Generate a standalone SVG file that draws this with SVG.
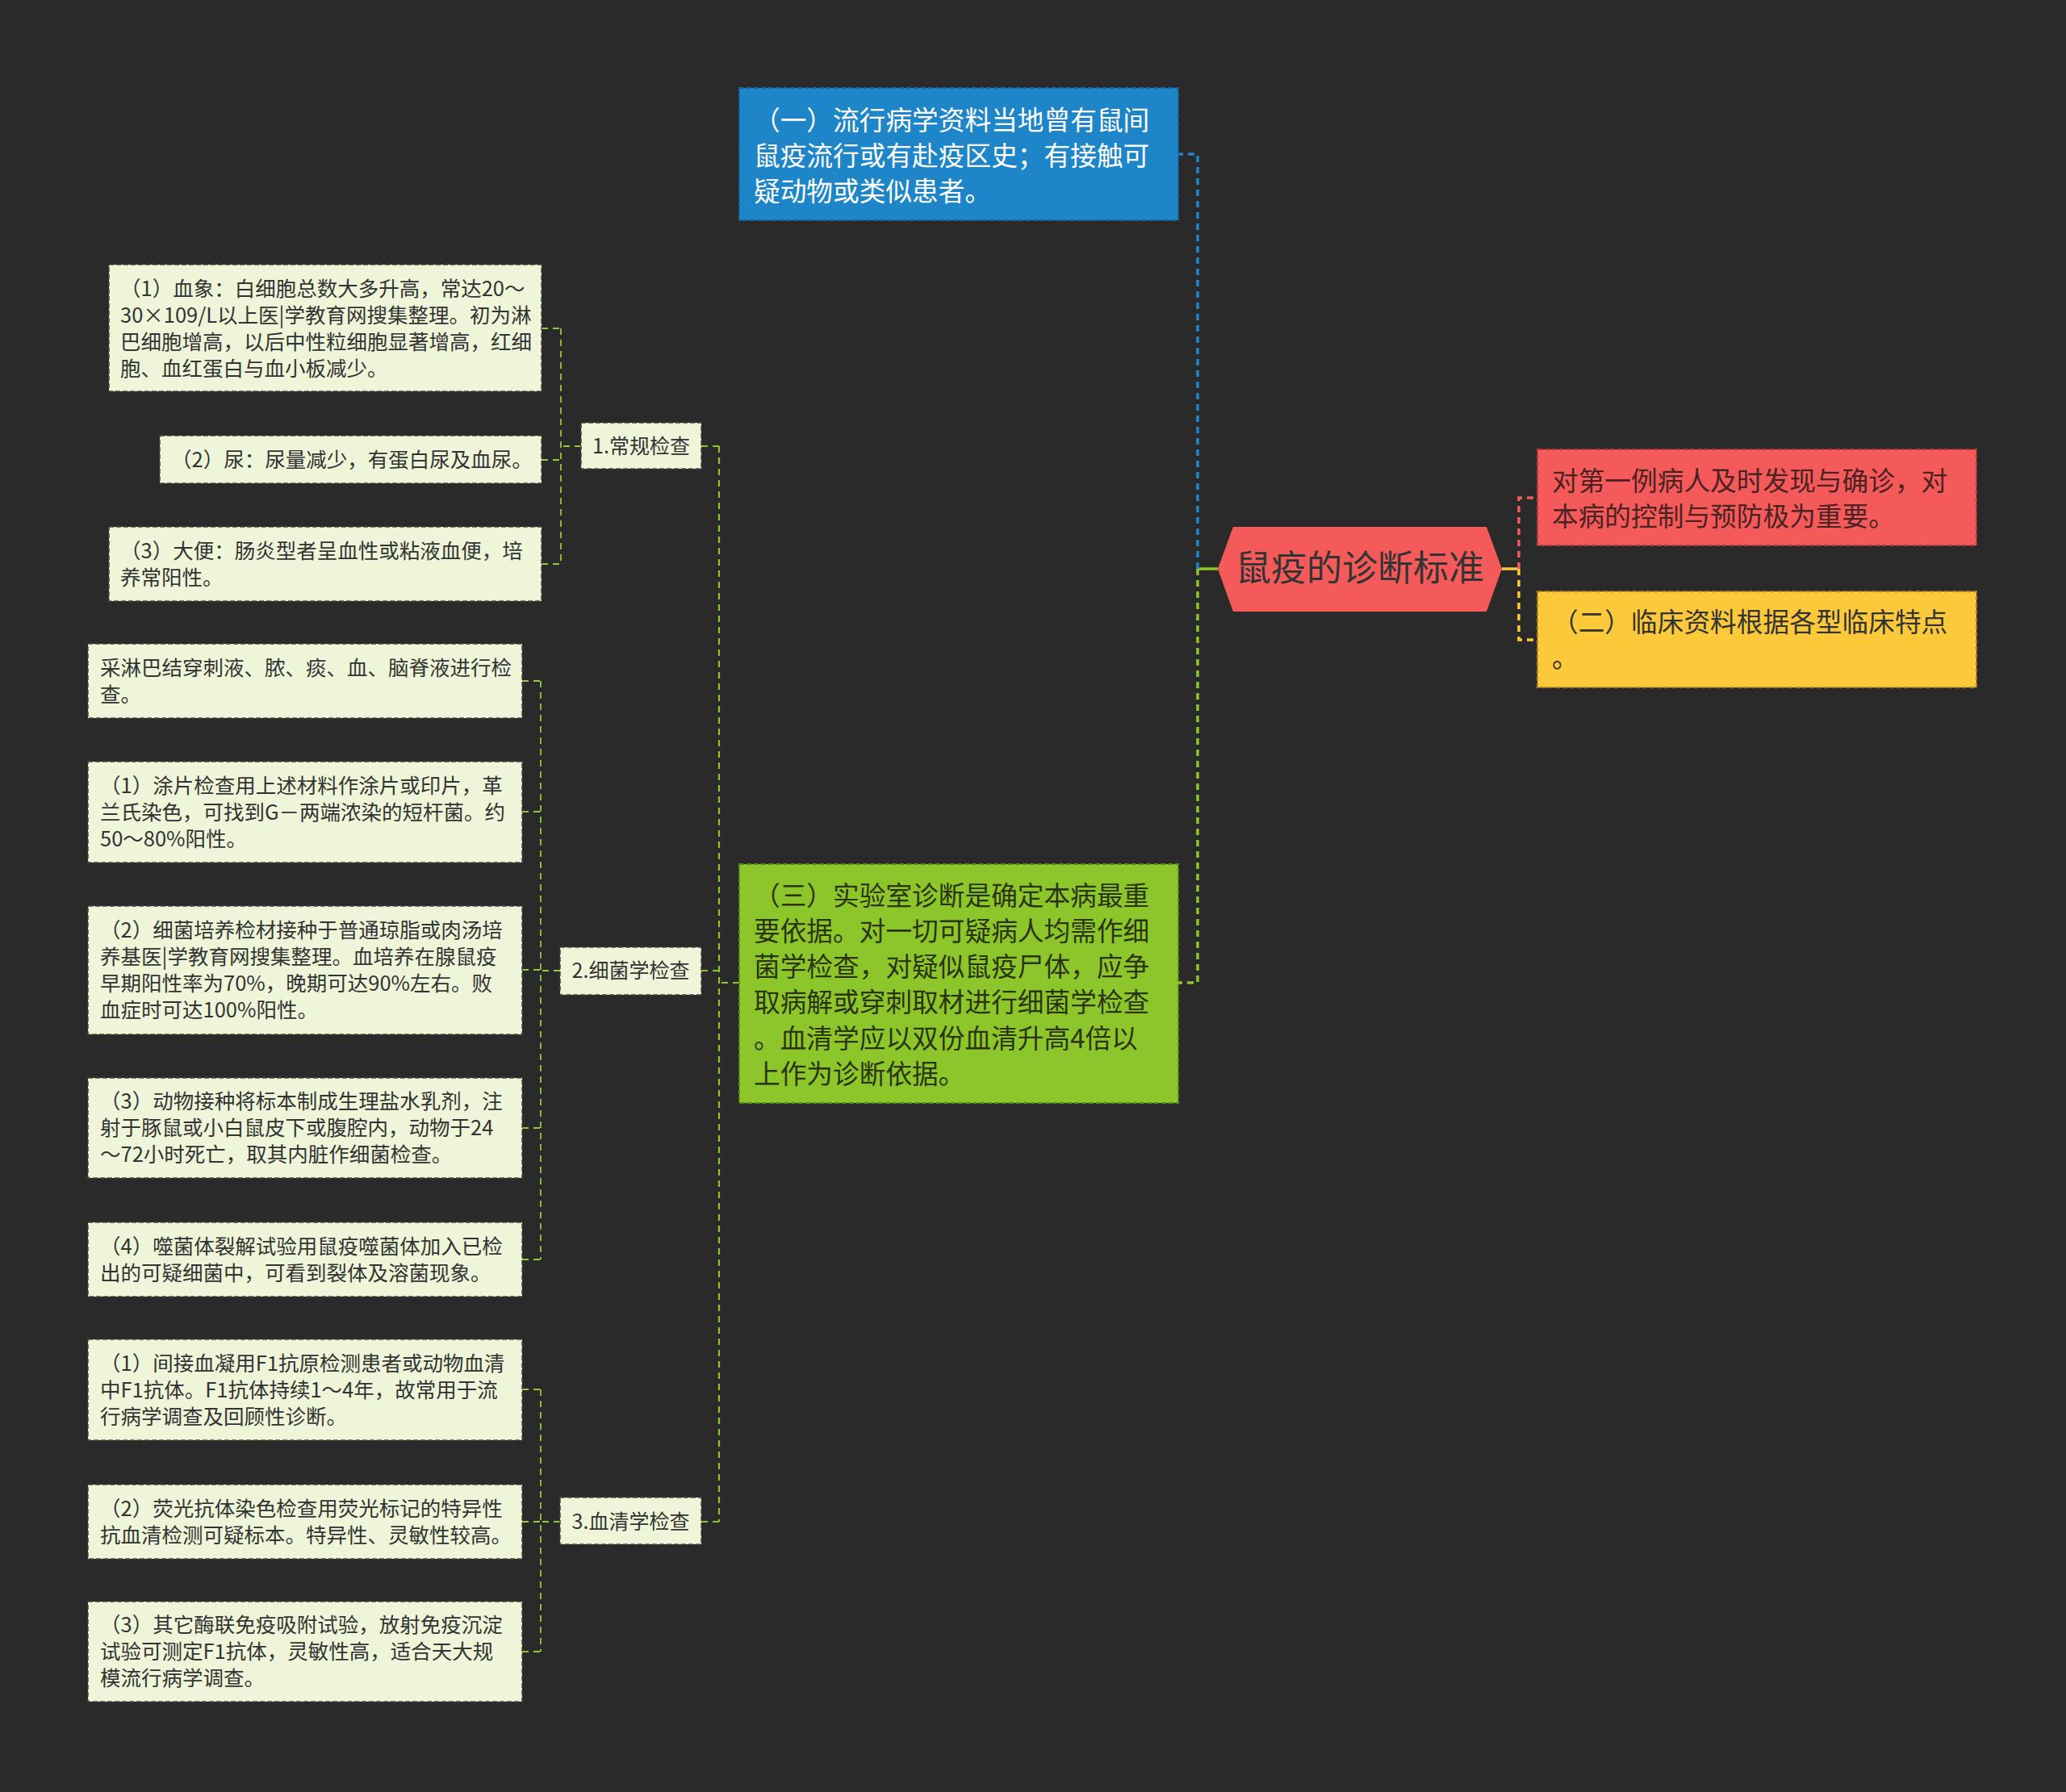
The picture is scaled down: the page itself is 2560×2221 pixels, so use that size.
<svg xmlns="http://www.w3.org/2000/svg" width="2560" height="2221" viewBox="0 0 2560 2221">
<style>
text{font-family:"Noto Sans CJK SC","Noto Sans",sans-serif;}
.leaf rect{fill:#eef5d8;stroke:#4a4a3a;stroke-width:1.5;stroke-dasharray:6 3;}
.leaf text{font-size:25.5px;fill:#333333;}
.sub rect{fill:#eef5d8;stroke:#4a4a3a;stroke-width:1.5;stroke-dasharray:6 3;}
.sub text{font-size:25px;fill:#333333;text-anchor:middle;}
.big text{font-size:32.7px;}
.c{fill:none;stroke-dasharray:8 6;}
.c1{stroke-width:3.5;}
.s{fill:none;stroke-width:3.5;}
.c2{stroke:#8cc62b;stroke-width:2.2;}
.c3{stroke:#96c83a;stroke-width:1.8;}
</style>
<rect x="0" y="0" width="2560" height="2221" fill="#2a2a2a"/>
<g id="connectors">
<path class="s" d="M1509 705 H1484" stroke="#8cc62b"/>
<path class="c c1" d="M1484 705 V1218 H1460" stroke="#8cc62b"/>
<path class="c c1" d="M1484 705 V191 H1460" stroke="#1e86c8"/>
<path class="s" d="M1861 705 H1882" stroke="#fcc93b"/>
<path class="c c1" d="M1882 705 V793 H1905" stroke="#fcc93b"/>
<path class="c c1" d="M1882 705 V617 H1905" stroke="#f55a5a"/>
<path class="c c2" d="M916 1218 H891 M891 553 V1886 M869 553 H891 M869 1203 H891 M869 1886 H891"/>
<path class="c c3" d="M720 553 H695 M695 407 V699 M671 407 H695 M671 570 H695 M671 699 H695"/>
<path class="c c3" d="M694 1203 H670 M670 844 V1561 M647 844 H670 M647 1006 H670 M647 1202 H670 M647 1398 H670 M647 1561 H670"/>
<path class="c c3" d="M694 1886 H670 M670 1722 V2047 M647 1722 H670 M647 1886 H670 M647 2047 H670"/>
</g>
<g id="root">
<polygon points="1509,705 1528,653 1842,653 1861,705 1842,758 1528,758" fill="#f55a5a"/>
<text x="1685" y="720" font-size="44" fill="#333333" text-anchor="middle">鼠疫的诊断标准</text>
</g>
<g id="n-epi" class="big">
<rect x="916" y="109" width="544" height="164" fill="#1e86c8" stroke="#17639a" stroke-width="2" stroke-dasharray="6 3"/>
<text fill="#ffffff"><tspan x="934" y="161">（一）流行病学资料当地曾有鼠间</tspan><tspan x="934" y="205">鼠疫流行或有赴疫区史；有接触可</tspan><tspan x="934" y="249">疑动物或类似患者。</tspan></text>
</g>
<g id="n-first" class="big">
<rect x="1905" y="557" width="544" height="119" fill="#f55a5a" stroke="#b03a3a" stroke-width="2" stroke-dasharray="6 3"/>
<text fill="#4a2222"><tspan x="1923" y="608">对第一例病人及时发现与确诊，对</tspan><tspan x="1923" y="652">本病的控制与预防极为重要。</tspan></text>
</g>
<g id="n-clin" class="big">
<rect x="1905" y="733" width="544" height="119" fill="#fcc93b" stroke="#a88420" stroke-width="2" stroke-dasharray="6 3"/>
<text fill="#333333"><tspan x="1923" y="783">（二）临床资料根据各型临床特点</tspan><tspan x="1923" y="827">。</tspan></text>
</g>
<g id="n-lab" class="big">
<rect x="916" y="1071" width="544" height="296" fill="#8cc62b" stroke="#5c8a18" stroke-width="2" stroke-dasharray="6 3"/>
<text fill="#2a3410"><tspan x="934" y="1122">（三）实验室诊断是确定本病最重</tspan><tspan x="934" y="1166">要依据。对一切可疑病人均需作细</tspan><tspan x="934" y="1210">菌学检查，对疑似鼠疫尸体，应争</tspan><tspan x="934" y="1254">取病解或穿刺取材进行细菌学检查</tspan><tspan x="934" y="1299">。血清学应以双份血清升高4倍以</tspan><tspan x="934" y="1343">上作为诊断依据。</tspan></text>
</g>
<g id="s1" class="sub"><rect x="720" y="524" width="149" height="57"/><text x="794.5" y="562">1.常规检查</text></g>
<g id="s2" class="sub"><rect x="694" y="1174" width="175" height="59"/><text x="781.5" y="1212">2.细菌学检查</text></g>
<g id="s3" class="sub"><rect x="694" y="1856" width="175" height="58"/><text x="781.5" y="1895">3.血清学检查</text></g>
<g id="l1" class="leaf"><rect x="135" y="328" width="536" height="157"/><text><tspan x="149" y="367">（1）血象：白细胞总数大多升高，常达20～</tspan><tspan x="149" y="400">30×109/L以上医|学教育网搜集整理。初为淋</tspan><tspan x="149" y="433">巴细胞增高，以后中性粒细胞显著增高，红细</tspan><tspan x="149" y="466">胞、血红蛋白与血小板减少。</tspan></text></g>
<g id="l2" class="leaf"><rect x="198" y="540" width="473" height="59"/><text><tspan x="212" y="579">（2）尿：尿量减少，有蛋白尿及血尿。</tspan></text></g>
<g id="l3" class="leaf"><rect x="135" y="653" width="536" height="92"/><text><tspan x="149" y="691.5">（3）大便：肠炎型者呈血性或粘液血便，培</tspan><tspan x="149" y="724.5">养常阳性。</tspan></text></g>
<g id="l4" class="leaf"><rect x="109" y="798" width="538" height="92"/><text><tspan x="124" y="836.5">采淋巴结穿刺液、脓、痰、血、脑脊液进行检</tspan><tspan x="124" y="869.5">查。</tspan></text></g>
<g id="l5" class="leaf"><rect x="109" y="944" width="538" height="125"/><text><tspan x="124" y="982.5">（1）涂片检查用上述材料作涂片或印片，革</tspan><tspan x="124" y="1015.5">兰氏染色，可找到G－两端浓染的短杆菌。约</tspan><tspan x="124" y="1048.5">50～80%阳性。</tspan></text></g>
<g id="l6" class="leaf"><rect x="109" y="1123" width="538" height="159"/><text><tspan x="124" y="1162">（2）细菌培养检材接种于普通琼脂或肉汤培</tspan><tspan x="124" y="1195">养基医|学教育网搜集整理。血培养在腺鼠疫</tspan><tspan x="124" y="1228">早期阳性率为70%，晚期可达90%左右。败</tspan><tspan x="124" y="1261">血症时可达100%阳性。</tspan></text></g>
<g id="l7" class="leaf"><rect x="109" y="1336" width="538" height="124"/><text><tspan x="124" y="1374">（3）动物接种将标本制成生理盐水乳剂，注</tspan><tspan x="124" y="1407">射于豚鼠或小白鼠皮下或腹腔内，动物于24</tspan><tspan x="124" y="1440">～72小时死亡，取其内脏作细菌检查。</tspan></text></g>
<g id="l8" class="leaf"><rect x="109" y="1515" width="538" height="92"/><text><tspan x="124" y="1553.5">（4）噬菌体裂解试验用鼠疫噬菌体加入已检</tspan><tspan x="124" y="1586.5">出的可疑细菌中，可看到裂体及溶菌现象。</tspan></text></g>
<g id="l9" class="leaf"><rect x="109" y="1660" width="538" height="125"/><text><tspan x="124" y="1698.5">（1）间接血凝用F1抗原检测患者或动物血清</tspan><tspan x="124" y="1731.5">中F1抗体。F1抗体持续1～4年，故常用于流</tspan><tspan x="124" y="1764.5">行病学调查及回顾性诊断。</tspan></text></g>
<g id="l10" class="leaf"><rect x="109" y="1840" width="538" height="92"/><text><tspan x="124" y="1878.5">（2）荧光抗体染色检查用荧光标记的特异性</tspan><tspan x="124" y="1911.5">抗血清检测可疑标本。特异性、灵敏性较高。</tspan></text></g>
<g id="l11" class="leaf"><rect x="109" y="1985" width="538" height="124"/><text><tspan x="124" y="2023">（3）其它酶联免疫吸附试验，放射免疫沉淀</tspan><tspan x="124" y="2056">试验可测定F1抗体，灵敏性高，适合天大规</tspan><tspan x="124" y="2089">模流行病学调查。</tspan></text></g>
</svg>
